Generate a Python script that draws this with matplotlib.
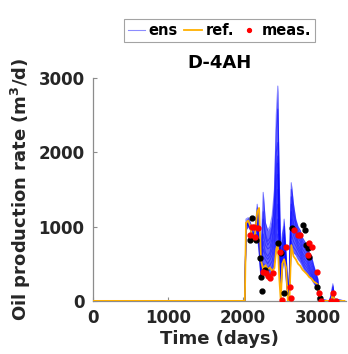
import numpy as np
import matplotlib
matplotlib.use("Agg")
import matplotlib.pyplot as plt

well = "D-4AH"

# time grid of the simulated rates (days)
t = [0, 2030, 2045, 2075, 2105, 2135, 2165, 2195, 2220, 2245, 2275, 2305, 2335, 2365,
     2395, 2425, 2450, 2470, 2490, 2510, 2530, 2555, 2580, 2605, 2625, 2650, 2680, 2710,
     2740, 2770, 2800, 2830, 2860, 2890, 2920, 2950, 2980, 3005, 3025, 3160, 3185, 3205,
     3230, 3360]

# reference model
ref = [0, 0, 1050, 1080, 1000, 800, 900, 1200, 1250, 550, 420, 480, 420, 450, 400, 440,
       700, 760, 300, 0, 500, 560, 450, 0, 0, 750, 600, 560, 500, 470, 420, 390, 360, 320,
       300, 260, 240, 220, 0, 0, 0, 110, 0, 0]

# ensemble members
ens = [
    [0, 0, 1000, 1050, 1000, 900, 950, 1250, 1050, 700, 1200, 900, 800, 850, 1000, 1400, 2500, 2890, 1300, 500, 800, 900, 500, 100, 300, 1500, 1200, 1050, 950, 900, 800, 750, 700, 600, 550, 450, 350, 280, 20, 0, 80, 200, 20, 0],
    [0, 0, 950, 1000, 950, 850, 900, 1300, 1000, 600, 1460, 1050, 950, 1000, 1150, 1500, 2300, 2580, 1600, 600, 900, 1000, 600, 200, 400, 1590, 1300, 1100, 1000, 950, 850, 800, 720, 650, 600, 480, 380, 300, 30, 0, 100, 230, 30, 0],
    [0, 0, 1100, 1120, 1050, 950, 1000, 1200, 950, 500, 1100, 850, 750, 800, 950, 1300, 2000, 2130, 1200, 450, 850, 1100, 650, 150, 350, 1400, 1150, 1000, 900, 850, 750, 700, 650, 560, 500, 420, 330, 260, 20, 0, 70, 180, 20, 0],
    [0, 0, 1000, 1050, 980, 880, 930, 1150, 900, 450, 900, 750, 700, 720, 850, 1100, 1800, 1950, 1000, 400, 700, 950, 550, 100, 300, 1300, 1050, 950, 850, 800, 700, 650, 600, 520, 460, 380, 300, 230, 10, 0, 60, 150, 10, 0],
    [0, 0, 980, 1020, 960, 860, 900, 1100, 850, 400, 800, 650, 600, 650, 780, 1000, 1600, 1850, 900, 350, 650, 850, 500, 80, 250, 1200, 1000, 900, 800, 750, 650, 600, 560, 480, 420, 350, 280, 210, 10, 0, 50, 130, 10, 0],
    [0, 0, 1050, 1080, 1000, 900, 950, 1050, 800, 380, 700, 600, 560, 600, 700, 900, 1400, 1700, 800, 300, 600, 800, 450, 60, 220, 1100, 950, 850, 760, 700, 620, 560, 520, 450, 390, 320, 250, 190, 5, 0, 40, 110, 5, 0],
    [0, 0, 1020, 1060, 990, 870, 920, 1000, 750, 350, 600, 550, 500, 550, 620, 800, 1200, 1500, 700, 250, 550, 750, 400, 50, 200, 1000, 880, 800, 720, 660, 580, 520, 480, 420, 360, 300, 230, 170, 5, 0, 30, 90, 5, 0],
    [0, 0, 1000, 1040, 970, 850, 900, 950, 700, 320, 500, 480, 440, 480, 540, 700, 1000, 1300, 600, 200, 500, 700, 380, 40, 180, 900, 800, 740, 680, 620, 540, 480, 440, 390, 340, 280, 210, 160, 0, 0, 25, 80, 0, 0],
    [0, 0, 990, 1030, 960, 840, 880, 900, 650, 300, 420, 400, 380, 420, 460, 600, 850, 1100, 500, 150, 450, 650, 350, 30, 150, 800, 720, 680, 620, 580, 500, 440, 400, 360, 310, 260, 200, 150, 0, 0, 20, 60, 0, 0],
    [0, 0, 1010, 1050, 980, 860, 890, 980, 720, 340, 380, 350, 320, 350, 400, 500, 700, 900, 420, 100, 400, 600, 300, 20, 120, 700, 650, 620, 560, 520, 460, 400, 360, 330, 290, 240, 190, 140, 0, 0, 15, 50, 0, 0],
]

# measured rates
meas_t = [2093, 2120, 2147, 2160, 2200, 2270, 2315, 2333, 2360, 2405, 2493, 2530, 2582,
          2627, 2640, 2693, 2737, 2773, 2871, 2893, 2929, 2991, 3018, 3049, 3182, 3213, 3249]
meas_v = [885, 990, 995, 860, 980, 390, 375, 335, 310, 375, 655, 15, 720,
          190, 40, 950, 885, 885, 615, 775, 720, 390, 105, 0, 0, 105, 0]

# measurements outside the assimilation window
excl_t = [2100, 2130, 2173, 2236, 2250, 2258, 2293, 2470, 2515, 2547, 2662, 2804, 2827,
          2849, 2871, 2893, 2991, 3036]
excl_v = [815, 1110, 815, 575, 320, 135, 415, 775, 640, 105, 980, 1020, 950,
          750, 710, 590, 190, 40]

plt.rcParams["font.family"] = "DejaVu Sans"
plt.rcParams["font.weight"] = "bold"

fig = plt.figure(figsize=(3.48, 3.54), dpi=100)
ax = fig.add_axes([0.267, 0.150, 0.727, 0.630])

for i, member in enumerate(ens):
    ax.plot(t, member, color="blue", lw=0.8, alpha=0.45,
            label="ens" if i == 0 else None, zorder=2)
ens_arr = np.array(ens)
ax.fill_between(t, ens_arr.min(axis=0), ens_arr.max(axis=0), color="blue",
                alpha=0.6, lw=0, zorder=1)
ax.plot(t, ref, color="#ffb000", lw=1.3, label="ref.", zorder=3)
ax.plot(excl_t, excl_v, "o", color="black", ms=3.5, zorder=4)
ax.plot(meas_t, meas_v, ".", color="red", ms=7, label="meas.", zorder=5)

ax.set_xlim(0, 3380)
ax.set_ylim(0, 3000)
ax.set_xticks([0, 1000, 2000, 3000])
ax.set_yticks([0, 1000, 2000, 3000])
for s in ["top", "right"]:
    ax.spines[s].set_visible(False)
for s in ["left", "bottom"]:
    ax.spines[s].set_color("#8c8c8c")
    ax.spines[s].set_linewidth(0.9)
ax.tick_params(direction="in", length=3, width=0.8, color="#8c8c8c",
               labelsize=12, labelcolor="#262626", pad=6)

ax.set_xlabel("Time (days)", fontsize=13, fontweight="bold", color="#262626", labelpad=2)
ax.set_ylabel("Oil production rate (m$^\\mathbf{3}$/d)", fontsize=13,
              fontweight="bold", color="#262626", labelpad=4)
ax.set_title(well, fontsize=13, fontweight="bold", pad=7)

leg = ax.legend(loc="center", bbox_to_anchor=(0.5, 1.213), ncol=3, fontsize=10.5,
                frameon=True, fancybox=False, handlelength=1.2, handletextpad=0.25,
                columnspacing=0.45, borderpad=0.25, markerscale=0.8,
                borderaxespad=0)
leg.get_frame().set_edgecolor("#8c8c8c")
leg.get_frame().set_linewidth(0.8)
for text in leg.get_texts():
    text.set_fontweight("bold")

fig.savefig("out.png", dpi=100)
